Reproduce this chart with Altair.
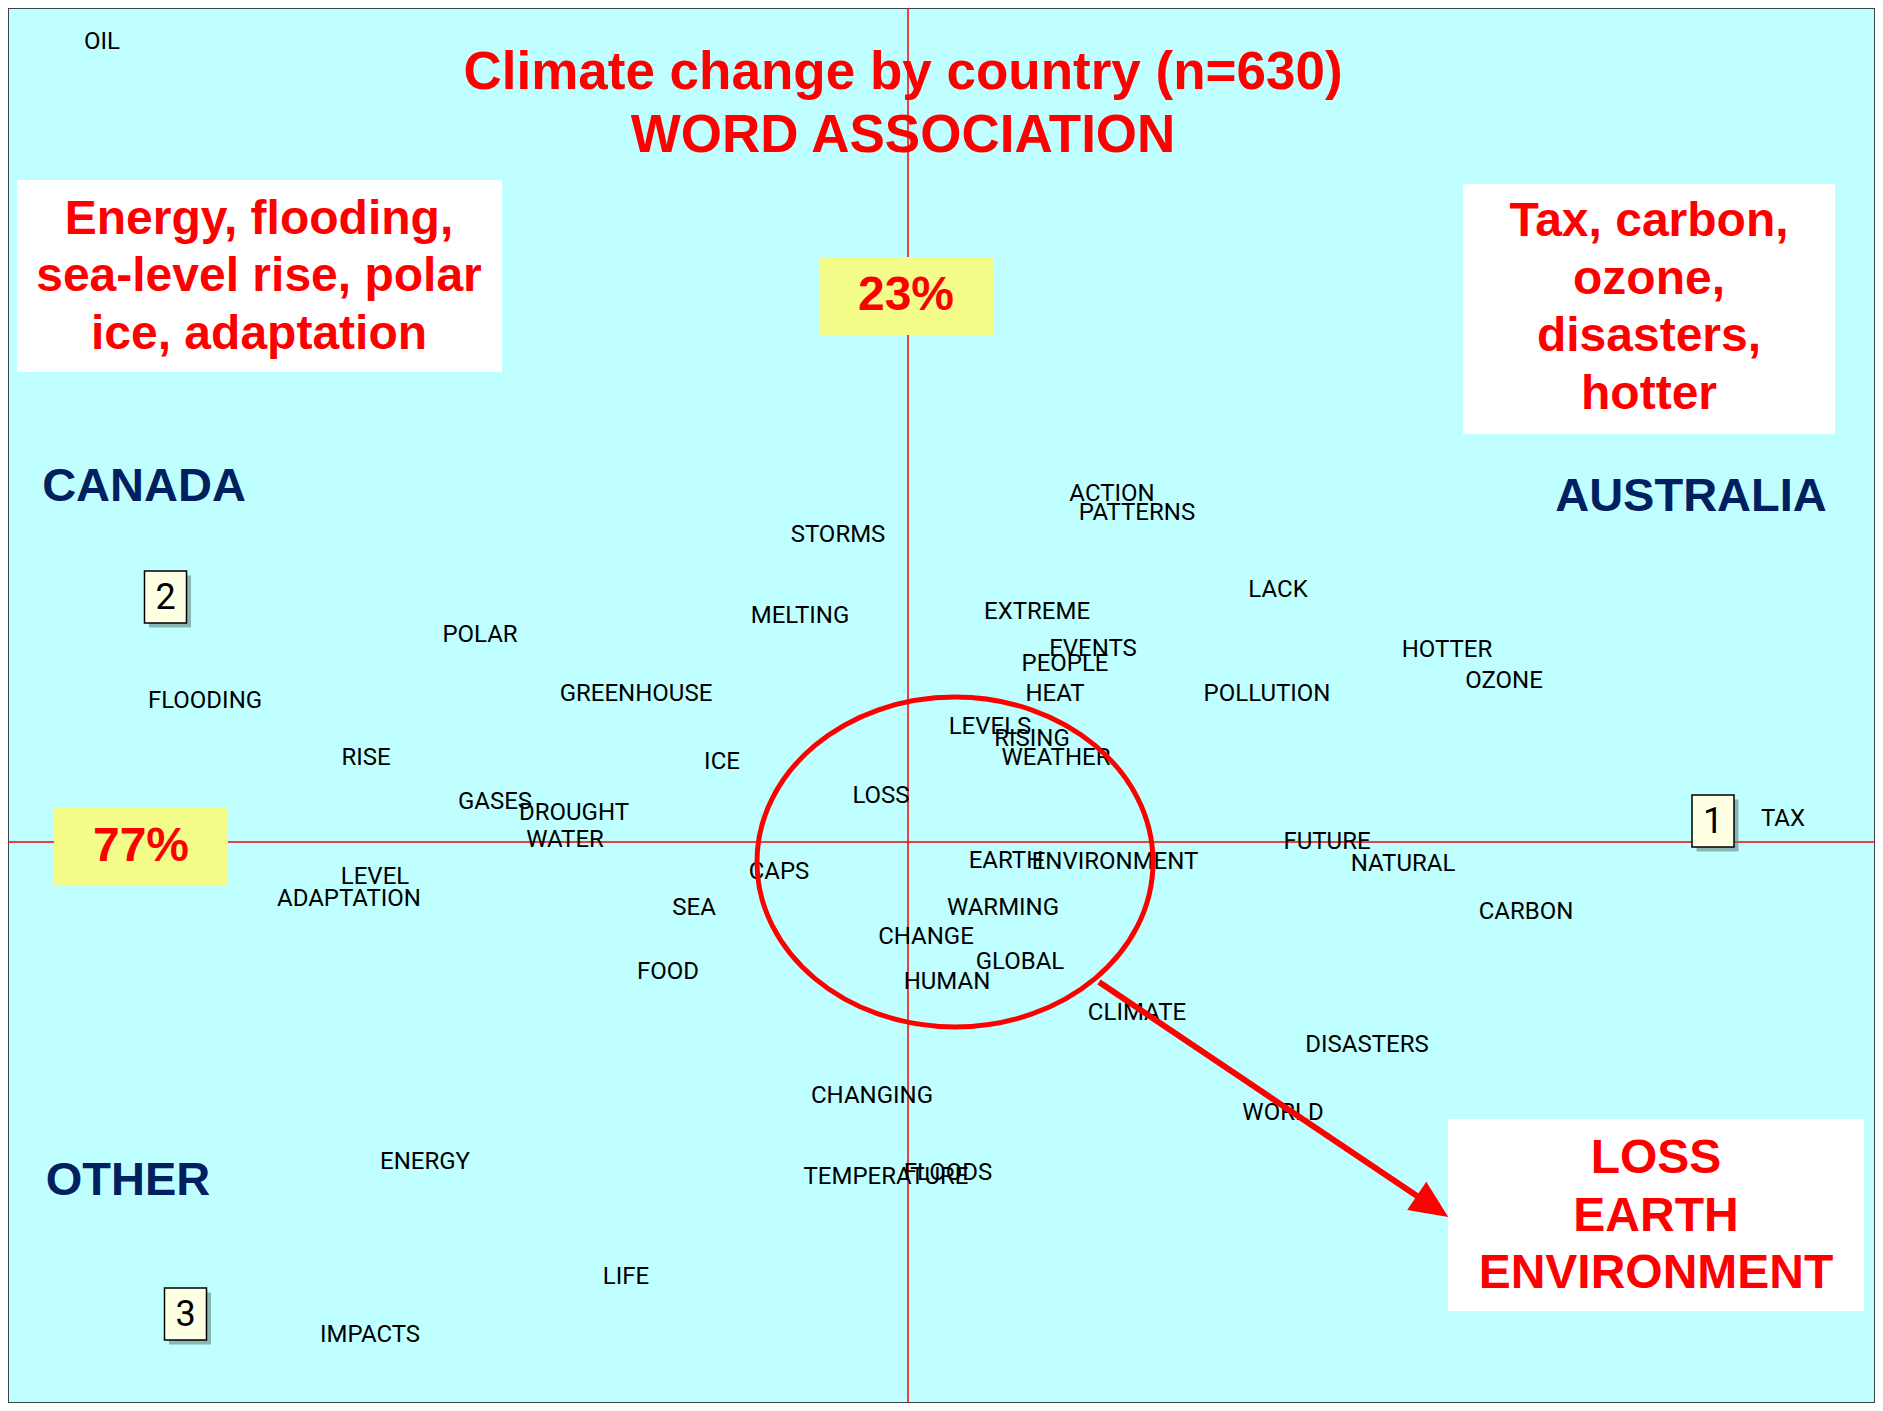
import altair as alt
import pandas as pd

# ---- correspondence-analysis word map (dimension scores) ----
words = ["OIL", "STORMS", "ACTION", "PATTERNS", "MELTING", "EXTREME", "LACK", "POLAR",
         "EVENTS", "PEOPLE", "HOTTER", "OZONE", "FLOODING", "GREENHOUSE", "HEAT",
         "POLLUTION", "LEVELS", "RISING", "WEATHER", "RISE", "ICE", "LOSS", "GASES",
         "DROUGHT", "WATER", "TAX", "FUTURE", "NATURAL", "EARTH", "ENVIRONMENT", "CAPS",
         "LEVEL", "ADAPTATION", "SEA", "WARMING", "CARBON", "CHANGE", "GLOBAL", "FOOD",
         "HUMAN", "CLIMATE", "DISASTERS", "CHANGING", "WORLD", "ENERGY", "TEMPERATURE",
         "FLOODS", "LIFE", "IMPACTS"]
dim1 = [-1.612, -0.140, 0.408, 0.458, -0.216, 0.258, 0.740, -0.856,
        0.370, 0.314, 1.078, 1.192, -1.406, -0.544, 0.294,
        0.718, 0.164, 0.248, 0.296, -1.084, -0.372, -0.054, -0.826,
        -0.668, -0.686, 1.750, 0.838, 0.990, 0.196, 0.414, -0.258,
        -1.066, -1.118, -0.428, 0.190, 1.236, 0.036, 0.224, -0.480,
        0.078, 0.458, 0.918, -0.072, 0.750, -0.966, -0.044,
        0.080, -0.564, -1.076]
dim2 = [1.600, 0.614, 0.696, 0.658, 0.452, 0.460, 0.504, 0.414,
        0.386, 0.356, 0.384, 0.322, 0.282, 0.296, 0.296,
        0.296, 0.230, 0.206, 0.168, 0.168, 0.160, 0.092, 0.080,
        0.058, 0.004, 0.046, 0.000, -0.044, -0.038, -0.040, -0.060,
        -0.070, -0.114, -0.132, -0.132, -0.140, -0.190, -0.240, -0.260,
        -0.280, -0.342, -0.406, -0.508, -0.542, -0.640, -0.670,
        -0.662, -0.870, -0.986]

# country points (numbered markers) and names
country_ids = ["1", "2", "3"]
country_names = ["AUSTRALIA", "CANADA", "OTHER"]
country_d1 = [1.610, -1.485, -1.445]
country_d2 = [0.042, 0.490, -0.944]
name_d1 = [1.566, -1.528, -1.560]
name_d2 = [0.690, 0.710, -0.678]

# inertia shares
pct_labels = ["23%", "77%"]
pct_d1 = [-0.004, -1.534]
pct_d2 = [1.092, -0.010]

title_lines = ["Climate change by country (n=630)", "WORD ASSOCIATION"]
canada_note = ["Energy, flooding,", "sea-level rise, polar", "ice, adaptation"]
australia_note = ["Tax, carbon,", "ozone,", "disasters,", "hotter"]
core_note = ["LOSS", "EARTH", "ENVIRONMENT"]

BG = "#c0ffff"
RED = "#ff0000"
NAVY = "#002060"
YELLOW = "#f4fc8a"
CREAM = "#ffffe4"
WORD_FONT = "Roboto"
BOLD_FONT = "Liberation Sans"

xs = alt.Scale(domain=[-1.8, 1.934], nice=False, zero=False)
ys = alt.Scale(domain=[-1.122, 1.668], nice=False, zero=False)


def X(f):
    return alt.X(f, type="quantitative", scale=xs, axis=None)


def Y(f):
    return alt.Y(f, type="quantitative", scale=ys, axis=None)


def X2(f):
    return alt.X2(f)


def Y2(f):
    return alt.Y2(f)


words_df = pd.DataFrame({"word": words, "d1": dim1, "d2": dim2})
countries_df = pd.DataFrame({"id": country_ids, "d1": country_d1, "d2": country_d2})
names_df = pd.DataFrame({"name": country_names, "d1": name_d1, "d2": name_d2})
pct_df = pd.DataFrame({"label": pct_labels, "d1": pct_d1, "d2": pct_d2})

# ---- background boxes (white notes and yellow percentage tags) ----
boxes_df = pd.DataFrame({
    "x1": [-1.782, 1.110, 1.080, -0.178, -1.708],
    "x2": [-0.812, 1.854, 1.912, 0.170, -1.360],
    "y1": [1.324, 1.316, -0.554, 1.170, 0.068],
    "y2": [0.940, 0.816, -0.938, 1.014, -0.086],
    "fill": ["white", "white", "white", YELLOW, YELLOW],
})

zero_df = pd.DataFrame({"v": [0.0]})
vrule = alt.Chart(zero_df).mark_rule(color=RED, strokeWidth=1.5).encode(x=X("v"))
hrule = alt.Chart(zero_df).mark_rule(color=RED, strokeWidth=1.5).encode(y=Y("v"))

boxes = alt.Chart(boxes_df).mark_rect().encode(
    x=X("x1"), x2=X2("x2"), y=Y("y1"), y2=Y2("y2"),
    color=alt.Color("fill:N", scale=None),
)

word_layer = alt.Chart(words_df).mark_text(
    font=WORD_FONT, fontSize=24, color="black", align="center", baseline="middle"
).encode(x=X("d1"), y=Y("d2"), text="word:N")

# numbered country markers
hw, hh, sh = 0.042, 0.052, 0.009
marker_base = alt.Chart(countries_df).transform_calculate(
    l=f"datum.d1 - {hw}", r=f"datum.d1 + {hw}",
    t=f"datum.d2 + {hh}", b=f"datum.d2 - {hh}",
    sl=f"datum.d1 - {hw} + {sh}", sr=f"datum.d1 + {hw} + {sh}",
    st=f"datum.d2 + {hh} - {sh}", sb=f"datum.d2 - {hh} - {sh}",
)
marker_shadow = marker_base.mark_rect(color="#5f7a7a", opacity=0.55).encode(
    x=X("sl:Q"), x2=X2("sr:Q"), y=Y("st:Q"), y2=Y2("sb:Q"))
marker_box = marker_base.mark_rect(fill=CREAM, stroke="black", strokeWidth=1.5).encode(
    x=X("l:Q"), x2=X2("r:Q"), y=Y("t:Q"), y2=Y2("b:Q"))
marker_text = alt.Chart(countries_df).mark_text(
    font=WORD_FONT, fontSize=36, color="black", align="center", baseline="middle", dy=1
).encode(x=X("d1"), y=Y("d2"), text="id:N")

names = alt.Chart(names_df).mark_text(
    font=BOLD_FONT, fontSize=47, fontWeight="bold", color=NAVY,
    align="center", baseline="middle"
).encode(x=X("d1"), y=Y("d2"), text="name:N")

pcts = alt.Chart(pct_df).mark_text(
    font=BOLD_FONT, fontSize=48, fontWeight="bold", color=RED,
    align="center", baseline="middle"
).encode(x=X("d1"), y=Y("d2"), text="label:N")

# ---- red annotation text blocks ----
notes_df = pd.DataFrame({
    "line": title_lines + canada_note + australia_note + core_note,
    "d1": [-0.010] * 2 + [-1.298] * 3 + [1.482] * 4 + [1.496] * 3,
    "d2": [1.538, 1.412,
           1.244, 1.130, 1.014,
           1.240, 1.124, 1.010, 0.894,
           -0.634, -0.750, -0.864],
    "size": [53, 53, 48, 48, 48, 48, 48, 48, 48, 48, 48, 48],
})
notes = alt.Chart(notes_df).mark_text(
    font=BOLD_FONT, fontWeight="bold", color=RED, align="center", baseline="middle"
).encode(x=X("d1"), y=Y("d2"), text="line:N", size=alt.Size("size:Q", scale=None))

# ---- ellipse around the core words and arrow to the note ----
ellipse_df = pd.DataFrame({"d1": [0.094], "d2": [-0.040]})
ellipse = alt.Chart(ellipse_df).mark_point(
    shape="M -1 0 A 1 0.833 0 1 1 1 0 A 1 0.833 0 1 1 -1 0 Z",
    size=396 * 396, filled=False, stroke=RED, strokeWidth=5, opacity=1,
).encode(x=X("d1"), y=Y("d2"))

arrow_df = pd.DataFrame({"a1": [0.382], "a2": [-0.280], "b1": [1.024], "b2": [-0.712]})
arrow_line = alt.Chart(arrow_df).mark_rule(color=RED, strokeWidth=6).encode(
    x=X("a1"), y=Y("a2"), x2=X2("b1"), y2=Y2("b2"))
head_df = pd.DataFrame({"d1": [1.049], "d2": [-0.729]})
arrow_head = alt.Chart(head_df).mark_point(
    shape="M 1 0 L -1 -0.9 L -1 0.9 Z", size=38 * 38, filled=True,
    color=RED, opacity=1, angle=34,
).encode(x=X("d1"), y=Y("d2"))

chart = alt.layer(
    vrule, hrule, boxes, word_layer, ellipse, arrow_line, arrow_head,
    marker_shadow, marker_box, marker_text, names, pcts, notes,
).properties(
    width=1867, height=1395, padding=0, autosize=alt.AutoSizeParams(type="none"),
    background="white",
).configure_view(
    fill=BG, stroke="#3c4646", strokeWidth=2
)

chart.save("out.html", embed_options={"renderer": "svg", "actions": False})
